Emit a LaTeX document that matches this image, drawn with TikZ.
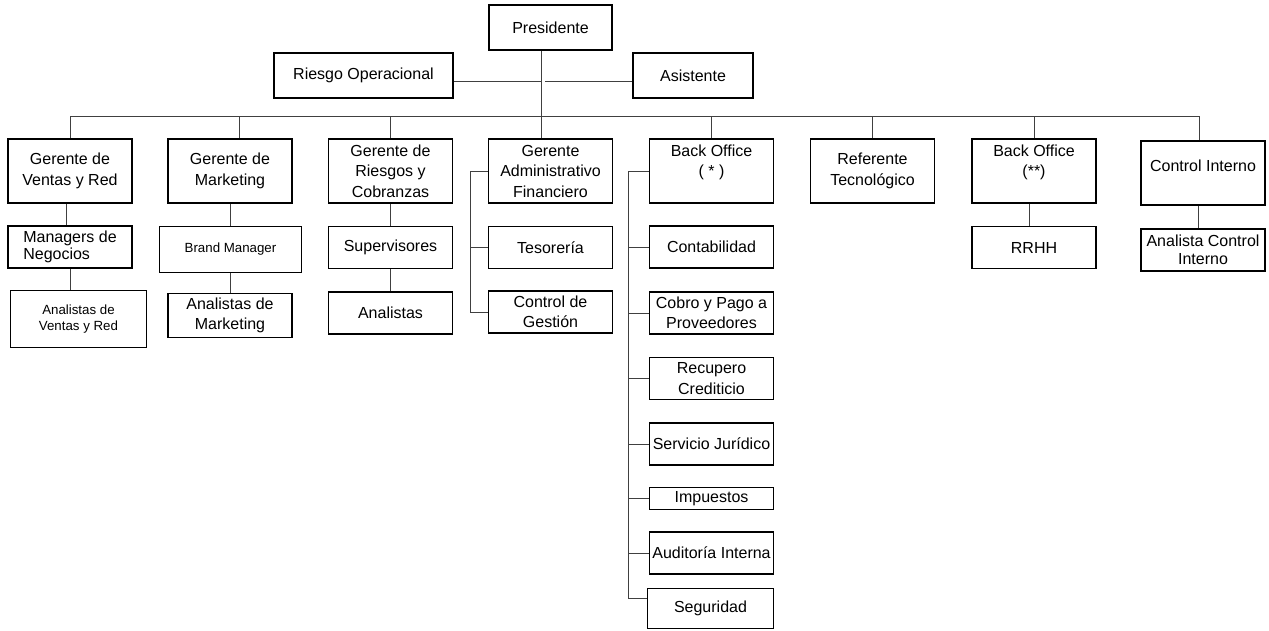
\documentclass[tikz,border=0pt]{standalone}
\usepackage{fontspec}
\setmainfont{Liberation Sans}
\usepackage{tikz}

\begin{document}
\begin{tikzpicture}[x=1pt,y=-1pt,
    box/.style={draw, line width=1.7pt, align=center, inner sep=0pt,
        minimum width=124pt, minimum height=42pt,
        font=\fontsize{16}{20.5}\selectfont},
    big/.style={box, minimum height=64pt},
    thinbox/.style={box, line width=0.9pt},
    small/.style={font=\fontsize{13.3}{16}\selectfont},
    link/.style={draw=black!75, line width=0.9pt}]
    \useasboundingbox (0,0) rectangle (1269,631);

    % presidencia
    \node[box, minimum width=123pt, minimum height=45pt] (pres) at (550.5,27.5) {Presidente};
    \node[box, minimum width=179pt, minimum height=45pt] (rop) at (363.5,75.5) {Riesgo Operacional};
    \node[box, minimum width=120pt, minimum height=45pt] (asis) at (693,75.5) {Asistente};

    % gerencias
    \node[big] (gvr) at (70,171) {Gerente de\\Ventas y Red};
    \node[big] (gmk) at (230,171) {Gerente de\\Marketing};
    \node[big] (grc) at (390.5,171) {Gerente de\\Riesgos y\\Cobranzas};
    \node[big] (gaf) at (550.5,171) {Gerente\\Administrativo\\Financiero};
    \node[big] (bo1) at (711.5,171) {Back Office\\( * )\\~};
    \node[big] (reft) at (872.5,171) {Referente\\Tecnológico};
    \node[big] (bo2) at (1034,171) {Back Office\\(**)\\~};
    \node[big, text depth=15pt] (ci) at (1203,173) {Control Interno};

    % segundo nivel
    \node[box, align=left, font=\fontsize{16}{17}\selectfont] (mgn) at (70,247) {Managers de\\Negocios};
    \node[thinbox, small, minimum width=142pt, minimum height=46pt] (brand) at (230.5,249.5) {Brand Manager};
    \node[box] (sup) at (390.5,247.5) {Supervisores};
    \node[box] (teso) at (550.5,247.5) {Tesorería};
    \node[box] (conta) at (711.5,247) {Contabilidad};
    \node[box] (rrhh) at (1034,247.5) {RRHH};
    \node[box, font=\fontsize{16}{18}\selectfont] (aci) at (1203,250) {Analista Control\\Interno};

    % tercer nivel
    \node[thinbox, small, minimum width=136pt, minimum height=57pt] (avr) at (78.5,319) {Analistas de\\Ventas y Red};
    \node[box, minimum height=44pt] (amk) at (230,315.5) {Analistas de\\Marketing};
    \node[box] (anal) at (390.5,313) {Analistas};
    \node[box] (cdg) at (550.5,312) {Control de\\Gestión};
    \node[box] (cobro) at (711.5,313) {Cobro y Pago a\\Proveedores};

    % back office
    \node[box] (recup) at (711.5,378.5) {Recupero\\Crediticio};
    \node[box] (serv) at (711.5,444) {Servicio Jurídico};
    \node[box, minimum height=22pt] (imp) at (711.5,498.5) {Impuestos};
    \node[box] (audit) at (711.5,553) {Auditoría Interna};
    \node[box, minimum width=126pt, minimum height=40pt] (seg) at (710.5,608.5) {Seguridad};

    % lineas
    \coordinate (bus) at (0,116);
    \coordinate (trunk) at ([xshift=-9.5pt]pres.south);
    \coordinate (trunkr) at ([xshift=3.5pt]trunk);
    \draw[link] (trunk) -- ([xshift=-9.5pt]gaf.north);
    \draw[link] ([yshift=-5.5pt]rop.east) -- ([yshift=-5.5pt]rop.east -| trunk);
    \draw[link] ([yshift=-5.5pt]asis.west) -- ([yshift=-5.5pt]asis.west -| trunkr);
    \draw[link] (gvr.north |- bus) -- ([xshift=-4pt]ci.north |- bus);
    \foreach \n in {gvr,grc,bo1,reft,bo2}
        \draw[link] (\n.north) -- (\n.north |- bus);
    \draw[link] ([xshift=9pt]gmk.north) -- ([xshift=9pt]gmk.north |- bus);
    \draw[link] ([xshift=-4pt]ci.north) -- ([xshift=-4pt]ci.north |- bus);

    \draw[link] ([xshift=-4pt]gvr.south) -- ([xshift=-4pt]mgn.north);
    \draw[link] (mgn.south) -- (mgn.south |- avr.north);
    \draw[link] (gmk.south) -- (gmk.south |- brand.north);
    \draw[link] (brand.south) -- (brand.south |- amk.north);
    \draw[link] (grc.south) -- (sup.north);
    \draw[link] (sup.south) -- (anal.north);
    \draw[link] ([xshift=-5pt]bo2.south) -- ([xshift=-5pt]rrhh.north);
    \draw[link] ([xshift=-5pt]ci.south) -- ([xshift=-5pt]aci.north);

    \coordinate (gafbar) at (470,0);
    \draw[link] (gaf.west) -- (gaf.west -| gafbar) |- (cdg.west);
    \draw[link] (teso.west) -- (teso.west -| gafbar);

    \coordinate (bobar) at (628,0);
    \draw[link] (bo1.west) -- (bo1.west -| bobar) |- ([yshift=10.5pt]seg.west);
    \foreach \n in {conta,cobro,recup,serv,imp,audit}
        \draw[link] (\n.west) -- (\n.west -| bobar);

\end{tikzpicture}
\end{document}
